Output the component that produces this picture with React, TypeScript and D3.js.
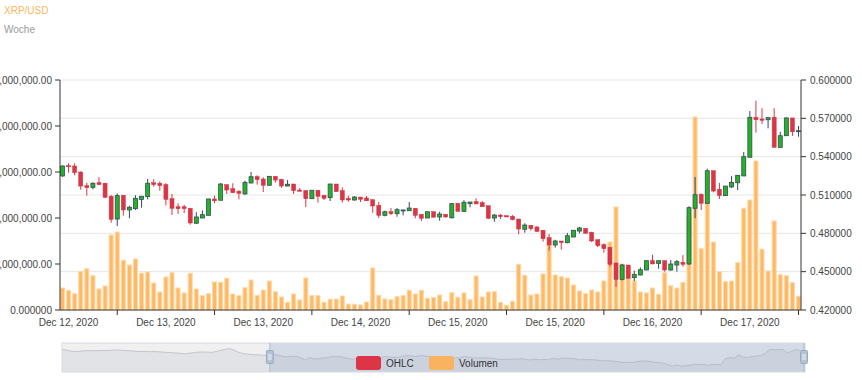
import React from "react";
import * as d3 from "d3";

const openP = [
  0.5249, 0.5329, 0.5327, 0.528, 0.5173, 0.516, 0.5196, 0.5192, 0.509, 0.4912,
  0.5098, 0.4983, 0.4993, 0.5066, 0.5087, 0.5196, 0.5192, 0.5181, 0.5071, 0.5008,
  0.5008, 0.4996, 0.4879, 0.492, 0.4941, 0.5069, 0.5059, 0.5181, 0.5149, 0.5129,
  0.5108, 0.5194, 0.5243, 0.5225, 0.5176, 0.5246, 0.5223, 0.517, 0.5186, 0.5139,
  0.5134, 0.5071, 0.5137, 0.5098, 0.5079, 0.5186, 0.5134, 0.5074, 0.5061, 0.5084,
  0.5077, 0.5063, 0.5019, 0.4941, 0.4969, 0.4954, 0.4977, 0.4977, 0.4996, 0.4949,
  0.492, 0.4969, 0.4928, 0.4949, 0.4922, 0.5035, 0.4972, 0.5032, 0.5048, 0.504,
  0.5016, 0.492, 0.4943, 0.4938, 0.4933, 0.4912, 0.4832, 0.4863, 0.485, 0.4824,
  0.4766, 0.4709, 0.474, 0.4727, 0.4771, 0.4818, 0.4839, 0.4808, 0.475, 0.4711,
  0.4691, 0.4568, 0.444, 0.4552, 0.4453, 0.4474, 0.4513, 0.4586, 0.4565, 0.4586,
  0.4513, 0.4552, 0.4573, 0.456, 0.4996, 0.5105, 0.5035, 0.529, 0.5145, 0.5095,
  0.5163, 0.5196, 0.5249, 0.5395, 0.5708, 0.5695, 0.5689, 0.5708, 0.5473, 0.5564,
  0.5703, 0.5599,
];
const highP = [
  0.5332, 0.5348, 0.5348, 0.5285, 0.5196, 0.5199, 0.5239, 0.5194, 0.51, 0.5113,
  0.5098, 0.5016, 0.5098, 0.5091, 0.5225, 0.5223, 0.5207, 0.5192, 0.5108, 0.5035,
  0.5022, 0.4997, 0.4965, 0.498, 0.5069, 0.5095, 0.5194, 0.5181, 0.5192, 0.5139,
  0.5212, 0.528, 0.5254, 0.5239, 0.5249, 0.5246, 0.5223, 0.5217, 0.5186, 0.5155,
  0.5139, 0.5137, 0.5137, 0.5098, 0.5186, 0.5186, 0.516, 0.5095, 0.5092, 0.5084,
  0.5092, 0.5063, 0.5045, 0.4977, 0.4998, 0.4998, 0.4983, 0.5045, 0.4996, 0.4949,
  0.4969, 0.4969, 0.4969, 0.4949, 0.5037, 0.5035, 0.5059, 0.5045, 0.5074, 0.5053,
  0.5016, 0.4951, 0.4951, 0.4938, 0.4943, 0.4912, 0.4879, 0.4863, 0.4855, 0.4824,
  0.4795, 0.475, 0.474, 0.4803, 0.4824, 0.485, 0.4839, 0.4813, 0.475, 0.4722,
  0.4691, 0.4568, 0.456, 0.4552, 0.4508, 0.4534, 0.4586, 0.4633, 0.4586, 0.4586,
  0.4591, 0.4591, 0.463, 0.5012, 0.5241, 0.5113, 0.5306, 0.529, 0.5194, 0.517,
  0.5249, 0.5254, 0.5437, 0.5757, 0.5838, 0.5779, 0.5708, 0.5779, 0.5595, 0.5708,
  0.5703, 0.564,
];
const lowP = [
  0.5243, 0.5275, 0.5254, 0.5141, 0.5095, 0.5145, 0.5181, 0.5079, 0.4883, 0.4857,
  0.4938, 0.4918, 0.4983, 0.5001, 0.5066, 0.5165, 0.5134, 0.5019, 0.4943, 0.4951,
  0.4959, 0.4868, 0.4875, 0.4919, 0.4941, 0.5035, 0.5059, 0.5108, 0.5118, 0.5066,
  0.5102, 0.5192, 0.5181, 0.5123, 0.5176, 0.5196, 0.5157, 0.517, 0.5108, 0.5129,
  0.5006, 0.5071, 0.504, 0.5061, 0.5053, 0.5126, 0.504, 0.5048, 0.5055, 0.5045,
  0.5055, 0.4961, 0.492, 0.4933, 0.4943, 0.493, 0.4941, 0.4977, 0.4918, 0.4897,
  0.492, 0.4926, 0.4899, 0.4922, 0.4915, 0.4972, 0.4967, 0.5004, 0.503, 0.5008,
  0.4912, 0.4891, 0.4912, 0.4928, 0.4902, 0.4792, 0.4805, 0.4821, 0.481, 0.4735,
  0.4664, 0.4688, 0.4672, 0.4722, 0.4771, 0.48, 0.48, 0.4732, 0.4693, 0.4648,
  0.4539, 0.438, 0.4432, 0.4448, 0.4426, 0.4471, 0.4513, 0.456, 0.4523, 0.45,
  0.4508, 0.45, 0.4539, 0.4554, 0.4918, 0.4983, 0.503, 0.5121, 0.5069, 0.5095,
  0.5155, 0.5139, 0.5249, 0.5395, 0.5588, 0.5656, 0.5622, 0.5473, 0.5473, 0.5564,
  0.5562, 0.5556,
];
const closeP = [
  0.5327, 0.5321, 0.5275, 0.517, 0.5157, 0.5192, 0.5181, 0.5082, 0.491, 0.5095,
  0.4983, 0.5004, 0.5074, 0.509, 0.5192, 0.5181, 0.5173, 0.5066, 0.4996, 0.4993,
  0.4993, 0.4881, 0.4928, 0.4946, 0.5069, 0.5055, 0.5186, 0.5139, 0.5118, 0.5113,
  0.5199, 0.5243, 0.522, 0.5176, 0.5246, 0.5217, 0.517, 0.5184, 0.5134, 0.5129,
  0.5071, 0.5137, 0.509, 0.5074, 0.5186, 0.5126, 0.5061, 0.5061, 0.5084, 0.5066,
  0.5055, 0.5014, 0.4941, 0.4969, 0.4954, 0.4985, 0.4983, 0.4998, 0.4941, 0.4918,
  0.4969, 0.4926, 0.4951, 0.4928, 0.5032, 0.4972, 0.5043, 0.5045, 0.503, 0.5008,
  0.4918, 0.4943, 0.493, 0.4928, 0.4907, 0.4834, 0.4865, 0.4836, 0.4816, 0.4758,
  0.4709, 0.474, 0.4727, 0.4781, 0.4824, 0.4842, 0.48, 0.474, 0.4703, 0.468,
  0.4558, 0.4439, 0.4552, 0.4448, 0.4479, 0.4515, 0.4586, 0.456, 0.4586, 0.4513,
  0.456, 0.4578, 0.4558, 0.5001, 0.5102, 0.5035, 0.529, 0.5131, 0.5095, 0.517,
  0.5199, 0.5254, 0.54, 0.5708, 0.5689, 0.5685, 0.5705, 0.5473, 0.5564, 0.5703,
  0.5595, 0.5603,
];
// volume in millions
const volumeM = [
  4.78, 4.28, 3.54, 8.41, 8.98, 7.46, 4.57, 5.22, 16.3, 16.96,
  10.8, 9.78, 11.09, 7.98, 8.26, 5.87, 3.91, 7.17, 8.11, 4.78,
  3.7, 7.98, 4.57, 3.11, 3.54, 6.09, 6.02, 6.89, 3.48, 3.11,
  4.85, 6.52, 3.2, 4.35, 6.3, 3.98, 2.83, 1.67, 3.48, 2.17,
  6.96, 3.11, 3.11, 1.67, 2.33, 2.39, 3.04, 1.3, 1.24, 1.09,
  1.74, 9.13, 3.2, 2.39, 2.24, 2.89, 3.11, 4.28, 3.48, 4.28,
  2.54, 2.72, 3.26, 1.8, 3.76, 2.76, 3.7, 2.24, 7.39, 2.83,
  3.91, 3.98, 1.67, 1.02, 1.89, 9.93, 7.54, 3.26, 3.48, 7.83,
  15.65, 7.61, 7.24, 6.96, 5.43, 4.13, 3.54, 4.35, 3.91, 6.3,
  14.78, 22.39, 10.0, 9.13, 6.3, 3.91, 3.7, 4.78, 3.41, 8.11,
  5.28, 4.78, 6.02, 20.5, 41.96, 13.33, 23.54, 14.78, 8.33, 6.15,
  6.3, 10.28, 22.11, 23.91, 32.39, 13.2, 8.48, 19.35, 7.67, 7.46,
  5.93, 2.98,
];
// earlier closes shown only in the navigator
const navPrior = [
  0.572, 0.566, 0.558, 0.555, 0.558, 0.561, 0.562, 0.561, 0.562, 0.564,
  0.563, 0.565, 0.567, 0.566, 0.564, 0.562, 0.559, 0.556, 0.555, 0.556,
  0.554, 0.555, 0.553, 0.55, 0.548, 0.546, 0.544, 0.54, 0.538, 0.543,
  0.548, 0.551, 0.552, 0.55, 0.549, 0.556, 0.566, 0.572, 0.577, 0.565,
  0.548, 0.54, 0.535, 0.532, 0.53, 0.528, 0.526,
];

const priceTicks = [0.42, 0.45, 0.48, 0.51, 0.54, 0.57, 0.6];
const volumeTicks = [0, 10, 20, 30, 40, 50];
const volumeTickLabels = [
  "0.000000",
  "10,000,000.00",
  "20,000,000.00",
  "30,000,000.00",
  "40,000,000.00",
  "50,000,000.00",
];
const dateLabels = [
  "Dec 12, 2020",
  "Dec 13, 2020",
  "Dec 13, 2020",
  "Dec 14, 2020",
  "Dec 15, 2020",
  "Dec 15, 2020",
  "Dec 16, 2020",
  "Dec 17, 2020",
];
const dateTickIndex = [9, 25, 41, 57, 73, 89, 105, 121];

const FONT = "'Liberation Sans', Arial, Helvetica, sans-serif";
const RED = "#dc3545";
const GREEN = "#22b522";
const DARK = "#34495e";
const ORANGE = "#ffb964";

export default function App() {
  const W = 862;
  const H = 380;
  const left = 60;
  const right = 801;
  const top = 80;
  const bottom = 310;

  const idx = d3.range(openP.length);
  const x = d3
    .scaleBand<number>()
    .domain(idx)
    .range([left, right])
    .paddingInner(0.18)
    .paddingOuter(0);
  const bw = x.bandwidth();
  const step = x.step();
  const cx = (i: number) => (x(i) as number) + bw / 2;
  const yP = d3.scaleLinear().domain([0.42, 0.6]).range([bottom, top]);
  const yV = d3.scaleLinear().domain([0, 50]).range([bottom, top]);

  // navigator
  const navTop = 343;
  const navBottom = 372;
  const navLeft = 62;
  const navRight = 805;
  const navData = navPrior.concat(closeP);
  const xN = d3
    .scaleLinear()
    .domain([0, navData.length - 1])
    .range([navLeft, navRight]);
  const yN = d3.scaleLinear().domain([0.4, 0.62]).range([navBottom, navTop]);
  const navArea = d3
    .area<number>()
    .x((_, i) => xN(i))
    .y0(navBottom)
    .y1((d) => yN(d));
  const navLine = d3
    .line<number>()
    .x((_, i) => xN(i))
    .y((d) => yN(d));
  const winStart = xN(navPrior.length);

  const bodyW = 4;

  return (
    <svg
      width={W}
      height={H}
      style={{ position: "absolute", left: 0, top: 0, fontFamily: FONT }}
    >
      <rect x={0} y={0} width={W} height={H} fill="#fff" />
      {/* title */}
      <text x={4} y={14} fontSize={10} fill="#ffb45c">
        XRP/USD
      </text>
      <text x={4} y={33} fontSize={10} fill="#999">
        Woche
      </text>

      {/* grid */}
      {priceTicks.slice(1).map((t) => (
        <line
          key={"g" + t}
          x1={left}
          x2={right}
          y1={yP(t)}
          y2={yP(t)}
          stroke="#e6e6e6"
          strokeWidth={1}
        />
      ))}

      {/* volume bars */}
      {volumeM.map((v, i) => (
        <rect
          key={"v" + i}
          x={(x(i) as number) + 0.5}
          y={yV(v)}
          width={bw - 1}
          height={bottom - yV(v)}
          fill={ORANGE}
          stroke="#ffd8a6"
          strokeWidth={1}
        />
      ))}

      {/* candles */}
      {idx.map((i) => {
        const o = openP[i];
        const c = closeP[i];
        const up = c >= o;
        const col = up ? GREEN : RED;
        const wickCol = up ? DARK : RED;
        const yTop = yP(Math.max(o, c));
        const yBot = yP(Math.min(o, c));
        const h = Math.max(1, yBot - yTop);
        return (
          <g key={"c" + i}>
            <line
              x1={cx(i)}
              x2={cx(i)}
              y1={yP(highP[i])}
              y2={yP(lowP[i])}
              stroke={wickCol}
              strokeWidth={1}
            />
            <rect
              x={cx(i) - bodyW / 2}
              y={yTop}
              width={bodyW}
              height={h}
              fill={col}
              stroke={up ? DARK : "#d0303e"}
              strokeWidth={up ? 0.8 : 0.5}
            />
          </g>
        );
      })}

      {/* left axis */}
      <line x1={left} x2={left} y1={top} y2={bottom} stroke="#333" />
      {volumeTicks.map((t, k) => (
        <g key={"lv" + t}>
          <line x1={left - 5} x2={left} y1={yV(t)} y2={yV(t)} stroke="#333" />
          <text
            x={left - 8}
            y={yV(t)}
            dy="0.35em"
            textAnchor="end"
            fontSize={10}
            fill="#444"
          >
            {volumeTickLabels[k]}
          </text>
        </g>
      ))}

      {/* right axis */}
      <line x1={right} x2={right} y1={top} y2={bottom} stroke="#333" />
      {priceTicks.map((t) => (
        <g key={"rp" + t}>
          <line x1={right} x2={right + 5} y1={yP(t)} y2={yP(t)} stroke="#333" />
          <text
            x={right + 9}
            y={yP(t)}
            dy="0.35em"
            textAnchor="start"
            fontSize={10}
            fill="#444"
          >
            {d3.format(".6f")(t)}
          </text>
        </g>
      ))}

      {/* bottom axis */}
      <line x1={left} x2={right} y1={bottom} y2={bottom} stroke="#333" />
      {dateTickIndex.map((ti, k) => (
        <g key={"bx" + k}>
          <line x1={cx(ti)} x2={cx(ti)} y1={bottom} y2={bottom + 5} stroke="#333" />
          <text
            x={cx(ti) - 8 * step}
            y={bottom + 16}
            textAnchor="middle"
            fontSize={10}
            fill="#444"
          >
            {dateLabels[k]}
          </text>
        </g>
      ))}

      {/* navigator */}
      <rect
        x={navLeft}
        y={navTop}
        width={navRight - navLeft}
        height={navBottom - navTop}
        fill="#f0f0f1"
      />
      <path d={navArea(navData) || ""} fill="#e2e3e6" />
      <path d={navLine(navData) || ""} fill="none" stroke="#c2c5ca" strokeWidth={1} />
      <rect
        x={winStart}
        y={navTop}
        width={navRight - winStart}
        height={navBottom - navTop}
        fill="rgba(150,172,205,0.3)"
      />
      <rect
        x={navLeft}
        y={navTop}
        width={navRight - navLeft}
        height={navBottom - navTop}
        fill="none"
        stroke="#d6dae0"
      />
      <line x1={winStart} x2={winStart} y1={navTop} y2={navBottom} stroke="#a9b9cd" />
      <line x1={navRight - 1} x2={navRight - 1} y1={navTop} y2={navBottom} stroke="#a9b9cd" />
      {[winStart, navRight - 1].map((hx, k) => (
        <g key={"h" + k}>
          <rect x={hx - 3.5} y={350.5} width={7} height={13} fill="#b3c2d4" stroke="#9aacc2" rx={1} />
          <line x1={hx - 2} x2={hx + 2} y1={355} y2={355} stroke="#eef2f7" />
          <line x1={hx - 2} x2={hx + 2} y1={357} y2={357} stroke="#eef2f7" />
          <line x1={hx - 2} x2={hx + 2} y1={359} y2={359} stroke="#eef2f7" />
        </g>
      ))}

      {/* legend */}
      <rect x={356} y={356} width={25} height={14} rx={3} fill={RED} />
      <text x={386} y={367} fontSize={10} fill="#333">
        OHLC
      </text>
      <rect x={429} y={356} width={25} height={14} rx={3} fill="#f9b35f" />
      <text x={459} y={367} fontSize={10} fill="#333">
        Volumen
      </text>
    </svg>
  );
}
